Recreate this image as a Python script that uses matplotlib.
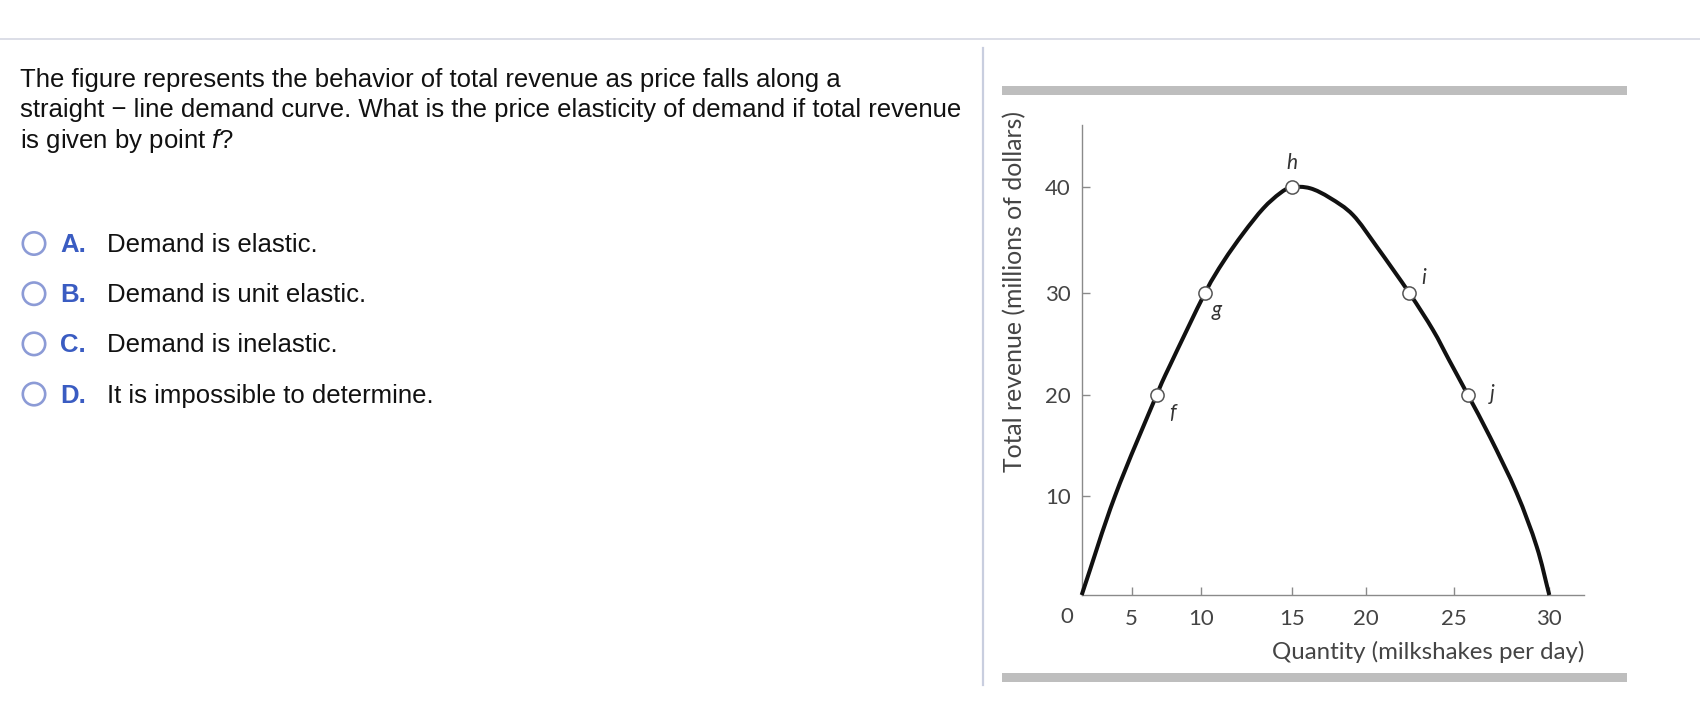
import numpy as np
import matplotlib
matplotlib.use('Agg')
import matplotlib.pyplot as plt
from matplotlib.patches import Rectangle, Circle, PathPatch
from matplotlib.path import Path

W, H = 1700, 706

question = ["The figure represents the behavior of total revenue as price falls along a",
            "straight \u2212 line demand curve. What is the price elasticity of demand if total revenue",
            "is given by point $\\mathit{f}$?"]
letters = ["A.", "B.", "C.", "D."]
answers = ["Demand is elastic.", "Demand is unit elastic.",
           "Demand is inelastic.", "It is impossible to determine."]

# total revenue curve
quantity = [0, 3.33, 6.8, 7.76, 10.22, 11.23, 12.33, 13.43, 14.35, 15, 16.24, 17.59,
            19.14, 20.64, 22.47, 23.81, 24.72, 25.73, 26.89, 28.29, 29.34, 30]
revenue = [0, 10, 20, 22.9, 30, 32.96, 35.65, 38.0, 39.43, 40, 39.91, 38.99,
           37.38, 34.35, 30, 26.37, 23.43, 20, 15.84, 10.3, 4.88, 0]

point_names = ['f', 'g', 'h', 'i', 'j']
point_q = [6.8, 10.22, 15, 22.47, 25.73]
point_tr = [20, 30, 40, 30, 20]

x_ticks = [0, 5, 10, 15, 20, 25, 30]
y_ticks = [0, 10, 20, 30, 40]

# the printed axes are hand drawn, so the tick spacing is uneven (pixels)
x_tick_px = [1081.7, 1131.7, 1201, 1291.7, 1365.7, 1454, 1549.3]
y_tick_px = [595, 496, 395, 293, 187.3]


def piecewise(vals, pos):
    v = np.r_[vals[0] - (vals[1] - vals[0]) * 3, vals, vals[-1] + (vals[-1] - vals[-2]) * 3]
    p = np.r_[pos[0] - (pos[1] - pos[0]) * 3, pos, pos[-1] + (pos[-1] - pos[-2]) * 3]
    return (lambda a: np.interp(a, v, p)), (lambda a: np.interp(a, p, v))


fwdx, invx = piecewise(np.array(x_ticks, float), np.array(x_tick_px))
fwdy, invy = piecewise(np.array(y_ticks, float), -np.array(y_tick_px))


def smooth_path(xs, ys):
    # catmull-rom through the read points, built in scale space
    P = np.column_stack([fwdx(np.array(xs, float)), fwdy(np.array(ys, float))])
    Pp = np.vstack([2 * P[0] - P[1], P, 2 * P[-1] - P[-2]])
    verts = [P[0]]
    codes = [Path.MOVETO]
    for k in range(len(P) - 1):
        p0, p1, p2, p3 = Pp[k], Pp[k + 1], Pp[k + 2], Pp[k + 3]
        verts += [p1 + (p2 - p0) / 6, p2 - (p3 - p1) / 6, p2]
        codes += [Path.CURVE4] * 3
    verts = np.array(verts)
    return Path(np.column_stack([invx(verts[:, 0]), invy(verts[:, 1])]), codes)


plt.rcParams['mathtext.fontset'] = 'custom'
plt.rcParams['mathtext.it'] = 'Liberation Sans:italic'
plt.rcParams['mathtext.rm'] = 'Liberation Sans'

fig = plt.figure(figsize=(W / 100, H / 100), dpi=100)
fig.patch.set_facecolor('white')

# page layer in pixel coordinates
bg = fig.add_axes([0, 0, 1, 1], zorder=0)
bg.set_xlim(0, W)
bg.set_ylim(H, 0)
bg.axis('off')
bg.plot([0, W], [39, 39], color='#d5d8e3', lw=1.2)
bg.plot([983, 983], [48, 685], color='#c9cedf', lw=1.6)
bg.add_patch(Rectangle((1002, 86), 625, 9, color='#bebebe', lw=0))
bg.add_patch(Rectangle((1002, 673), 625, 9, color='#bebebe', lw=0))

for k, line in enumerate(question):
    bg.text(20, 87 + k * 30.5, line, fontsize=18.5, family='Liberation Sans',
            color='#111111', va='baseline')

for k, (let, ans) in enumerate(zip(letters, answers)):
    yb = 252 + k * 50.2
    bg.add_patch(Circle((34, yb - 8.5), 11.2, facecolor='white',
                        edgecolor='#8c9bd6', lw=1.9))
    bg.text(60, yb, let, fontsize=18.5, family='Liberation Sans', weight='bold',
            color='#3a5cc2', va='baseline')
    bg.text(107, yb, ans, fontsize=18.5, family='Liberation Sans',
            color='#111111', va='baseline')

# the chart
ax = fig.add_axes([x_tick_px[0] / W, 1 - 595 / H, (1584 - x_tick_px[0]) / W, (595 - 125) / H],
                  zorder=1)
ax.set_facecolor('none')
ax.set_xscale('function', functions=(fwdx, invx))
ax.set_yscale('function', functions=(fwdy, invy))
ax.set_xlim(0, float(invx(1584)))
ax.set_ylim(0, float(invy(-125)))

ax.add_patch(PathPatch(smooth_path(quantity, revenue), fill=False, edgecolor='#111111',
                       lw=2.9, joinstyle='round', capstyle='butt', clip_on=False, zorder=3))
ax.plot(point_q, point_tr, 'o', ms=9.5, mfc='white', mec='#555555', mew=1.1,
        clip_on=False, zorder=4)
ax.set_xlim(0, float(invx(1584)))
ax.set_ylim(0, float(invy(-125)))

offsets = {'f': (16, -18), 'g': (12, -17), 'h': (0, 24), 'i': (14, 15), 'j': (24, 1)}
for name, q, tr in zip(point_names, point_q, point_tr):
    ax.annotate(name, (q, tr), xytext=offsets[name], textcoords='offset pixels',
                ha='center', va='center', fontsize=15, style='italic',
                family='Lato', color='#333333')

for s in ['top', 'right']:
    ax.spines[s].set_visible(False)
for s in ['left', 'bottom']:
    ax.spines[s].set_color('#8a8a8a')
    ax.spines[s].set_linewidth(1.0)

ax.set_xticks(x_ticks, [''] + [str(t) for t in x_ticks[1:]])
ax.set_yticks(y_ticks[1:], [str(t) for t in y_ticks[1:]])
ax.tick_params(axis='both', direction='in', length=5.8, width=1.0, color='#8a8a8a',
               labelcolor='#444444', labelsize=16)
ax.tick_params(axis='x', pad=10.0)
ax.tick_params(axis='y', pad=8.0)
for lab in ax.get_xticklabels() + ax.get_yticklabels():
    lab.set_family('Lato')

bg.text(1067, 617, '0', fontsize=16, family='Lato', color='#444444',
        ha='center', va='center')
bg.text(1584, 652, 'Quantity (milkshakes per day)', fontsize=17.3, family='Lato',
        color='#444444', ha='right', va='center')
bg.text(1015, 292, 'Total revenue (millions of dollars)', fontsize=17.8, family='Lato',
        color='#444444', ha='center', va='center', rotation=90)

fig.savefig('out.png', dpi=100, facecolor='white')
